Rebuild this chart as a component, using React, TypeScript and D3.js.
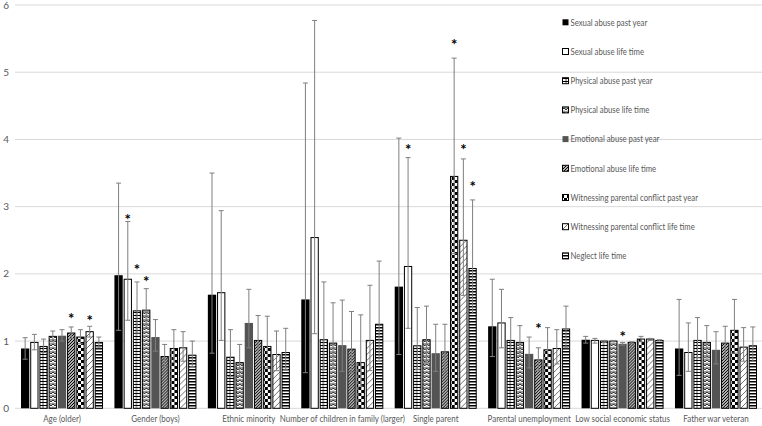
import React from "react";
import * as d3 from "d3";

const categories = [
  "Age (older)",
  "Gender (boys)",
  "Ethnic minority",
  "Number of children in family (larger)",
  "Single parent",
  "Parental unemployment",
  "Low social economic status",
  "Father war veteran",
];

const seriesNames = [
  "Sexual abuse past year",
  "Sexual abuse life time",
  "Physical abuse past year",
  "Physical abuse life time",
  "Emotional abuse past year",
  "Emotional abuse life time",
  "Witnessing parental conflict past year",
  "Witnessing parental conflict life time",
  "Neglect life time",
];

// values per series (one entry per category)
const sexualPastYear = [0.89, 1.98, 1.69, 1.62, 1.81, 1.22, 1.02, 0.89];
const sexualLifeTime = [0.98, 1.92, 1.72, 2.54, 2.11, 1.27, 1.01, 0.83];
const physicalPastYear = [0.92, 1.45, 0.76, 1.02, 0.93, 1.01, 1.0, 1.01];
const physicalLifeTime = [1.07, 1.46, 0.68, 0.97, 1.02, 0.98, 1.0, 0.98];
const emotionalPastYear = [1.08, 1.06, 1.27, 0.94, 0.82, 0.81, 0.96, 0.87];
const emotionalLifeTime = [1.12, 0.77, 1.01, 0.88, 0.84, 0.72, 0.98, 0.97];
const witnessPastYear = [1.06, 0.89, 0.92, 0.68, 3.45, 0.87, 1.03, 1.16];
const witnessLifeTime = [1.14, 0.9, 0.8, 1.01, 2.5, 0.89, 1.03, 0.91];
const neglectLifeTime = [0.98, 0.79, 0.83, 1.25, 2.08, 1.18, 1.01, 0.93];

// upper CI per series
const sexualPastYearHi = [1.05, 3.35, 3.5, 4.84, 4.02, 1.92, 1.07, 1.62];
const sexualLifeTimeHi = [1.1, 2.78, 2.94, 5.77, 3.73, 1.77, 1.04, 1.27];
const physicalPastYearHi = [1.03, 1.88, 1.17, 1.88, 1.5, 1.35, 1.01, 1.35];
const physicalLifeTimeHi = [1.15, 1.78, 0.95, 1.57, 1.52, 1.23, 1.01, 1.23];
const emotionalPastYearHi = [1.17, 1.32, 1.77, 1.61, 1.25, 1.06, 0.98, 1.14];
const emotionalLifeTimeHi = [1.21, 0.95, 1.38, 1.44, 1.25, 0.9, 0.99, 1.22];
const witnessPastYearHi = [1.17, 1.17, 1.37, 1.39, 5.21, 1.2, 1.07, 1.62];
const witnessLifeTimeHi = [1.22, 1.14, 1.15, 1.83, 3.71, 1.17, 1.04, 1.2];
const neglectLifeTimeHi = [1.06, 1.0, 1.19, 2.19, 3.1, 1.52, 1.02, 1.21];

// lower CI per series
const sexualPastYearLo = [0.73, 1.16, 0.82, 0.53, 0.8, 0.77, 0.97, 0.49];
const sexualLifeTimeLo = [0.87, 1.31, 1.01, 1.11, 1.19, 0.9, 0.97, 0.55];
const physicalPastYearLo = [0.83, 1.12, 0.47, 0.57, 0.58, 0.74, 0.98, 0.75];
const physicalLifeTimeLo = [0.99, 1.2, 0.48, 0.6, 0.68, 0.78, 0.99, 0.75];
const emotionalPastYearLo = [1.0, 0.85, 0.9, 0.55, 0.55, 0.6, 0.94, 0.66];
const emotionalLifeTimeLo = [1.04, 0.62, 0.74, 0.53, 0.56, 0.56, 0.97, 0.75];
const witnessPastYearLo = [0.96, 0.68, 0.6, 0.33, 2.3, 0.62, 0.99, 0.82];
const witnessLifeTimeLo = [1.06, 0.7, 0.56, 0.56, 1.68, 0.66, 1.01, 0.7];
const neglectLifeTimeLo = [0.9, 0.62, 0.58, 0.71, 1.41, 0.9, 1.0, 0.7];

// significance stars: [category index, series index, label height in data units]
const stars: [number, number, number][] = [
  [0, 5, 1.37],
  [0, 7, 1.34],
  [1, 1, 2.85],
  [1, 2, 2.1],
  [1, 3, 1.92],
  [4, 1, 3.88],
  [4, 6, 5.45],
  [4, 7, 3.88],
  [4, 8, 3.34],
  [5, 5, 1.23],
  [6, 4, 1.11],
];

const yTicks = [0, 1, 2, 3, 4, 5, 6];

const values = [
  sexualPastYear, sexualLifeTime, physicalPastYear, physicalLifeTime,
  emotionalPastYear, emotionalLifeTime, witnessPastYear, witnessLifeTime, neglectLifeTime,
];
const highs = [
  sexualPastYearHi, sexualLifeTimeHi, physicalPastYearHi, physicalLifeTimeHi,
  emotionalPastYearHi, emotionalLifeTimeHi, witnessPastYearHi, witnessLifeTimeHi, neglectLifeTimeHi,
];
const lows = [
  sexualPastYearLo, sexualLifeTimeLo, physicalPastYearLo, physicalLifeTimeLo,
  emotionalPastYearLo, emotionalLifeTimeLo, witnessPastYearLo, witnessLifeTimeLo, neglectLifeTimeLo,
];

const fills = [
  "#000000",
  "#ffffff",
  "url(#pGrid)",
  "url(#pZig)",
  "#545454",
  "url(#pDiag)",
  "url(#pCheck)",
  "url(#pLight)",
  "url(#pHoriz)",
];
const strokes = [null, "#000", "#000", "#000", null, "#000", "#000", "#000", "#000"];

const W = 762;
const H = 426;
const FONT = "Lato, 'Open Sans', sans-serif";
const TXT = "#595959";

export default function App() {
  const x = d3.scaleBand<string>().domain(categories).range([15.3, 762.7]).paddingInner(0.122).paddingOuter(0.061);
  const xs = d3.scaleBand<string>().domain(seriesNames).range([0, x.bandwidth()]).paddingInner(0.1);
  const y = d3.scaleLinear().domain([0, 6]).range([408.3, 5]);

  return (
    <svg width={W} height={H} style={{ position: "absolute", left: 0, top: 0, background: "#fff" }}>
      <defs>
        <pattern id="pGrid" patternUnits="userSpaceOnUse" width="4" height="3">
          <rect width="4" height="3" fill="#fff" />
          <line x1="0" y1="0.5" x2="4" y2="0.5" stroke="#000" strokeWidth="1" />
          <line x1="2" y1="0" x2="2" y2="3" stroke="#000" strokeWidth="0.7" />
        </pattern>
        <pattern id="pZig" patternUnits="userSpaceOnUse" width="4" height="4">
          <rect width="4" height="4" fill="#fff" />
          <path d="M0,0 L2,2 L4,0 M0,2.5 L2,4.5 L4,2.5 M0,-1.5 L2,0.5 L4,-1.5" fill="none" stroke="#000" strokeWidth="0.8" />
        </pattern>
        <pattern id="pDiag" patternUnits="userSpaceOnUse" width="3" height="3">
          <rect width="3" height="3" fill="#fff" />
          <path d="M-1,1 L1,-1 M0,3 L3,0 M2,4 L4,2" stroke="#000" strokeWidth="1.2" />
        </pattern>
        <pattern id="pCheck" patternUnits="userSpaceOnUse" width="6" height="6">
          <rect width="6" height="6" fill="#fff" />
          <rect x="0" y="0" width="3" height="3" fill="#000" />
          <rect x="3" y="3" width="3" height="3" fill="#000" />
        </pattern>
        <pattern id="pLight" patternUnits="userSpaceOnUse" width="6" height="6">
          <rect width="6" height="6" fill="#fff" />
          <path d="M0,6 L6,0 M-1,1 L1,-1 M5,7 L7,5" stroke="#333" strokeWidth="0.7" />
        </pattern>
        <pattern id="pHoriz" patternUnits="userSpaceOnUse" width="4" height="3">
          <rect width="4" height="3" fill="#fff" />
          <rect x="0" y="0" width="4" height="1.5" fill="#000" />
        </pattern>
      </defs>

      {/* gridlines */}
      {yTicks.map((t) => (
        <line key={"g" + t} x1={15} x2={762} y1={y(t)} y2={y(t)} stroke="#d9d9d9" strokeWidth={1} />
      ))}
      {yTicks.map((t) => (
        <text key={"t" + t} x={9} y={y(t) + 3.5} textAnchor="end" fontFamily={FONT} fontSize={10} fill={TXT}>
          {t}
        </text>
      ))}

      {/* bars */}
      {categories.map((c, ci) => (
        <g key={c} transform={`translate(${x(c)},0)`}>
          {seriesNames.map((s, si) => {
            const v = values[si][ci];
            const bx = xs(s)!;
            const bw = xs.bandwidth();
            return (
              <rect
                key={s}
                x={bx + (strokes[si] ? 0.5 : 0)}
                y={y(v)}
                width={bw - (strokes[si] ? 1 : 0)}
                height={y(0) - y(v)}
                fill={fills[si]}
                stroke={strokes[si] || "none"}
                strokeWidth={1}
              />
            );
          })}
          {seriesNames.map((s, si) => {
            const cx = xs(s)! + xs.bandwidth() / 2;
            const hi = y(highs[si][ci]);
            const lo = y(lows[si][ci]);
            return (
              <g key={"e" + s} stroke="#7f7f7f" strokeWidth={1}>
                <line x1={cx} x2={cx} y1={hi} y2={lo} />
                <line x1={cx - 2.5} x2={cx + 2.5} y1={hi} y2={hi} />
                <line x1={cx - 2.5} x2={cx + 2.5} y1={lo} y2={lo} />
              </g>
            );
          })}
        </g>
      ))}

      {/* stars */}
      {stars.map(([ci, si, v], i) => (
        <text
          key={"s" + i}
          x={x(categories[ci])! + xs(seriesNames[si])! + xs.bandwidth() / 2}
          y={y(v) + 8}
          textAnchor="middle"
          fontFamily={FONT}
          fontSize={15}
          fontWeight="bold"
          fill="#000"
          style={{ WebkitFontSmoothing: "antialiased" } as any}
        >
          *
        </text>
      ))}

      {/* category labels */}
      {categories.map((c) => (
        <text
          key={"c" + c}
          transform={`translate(${x(c)! + x.bandwidth() / 2},422) scale(0.84,1)`}
          textAnchor="middle"
          fontFamily={FONT}
          fontSize={9.5}
          fill={TXT}
        >
          {c}
        </text>
      ))}

      {/* legend */}
      {seriesNames.map((s, si) => {
        const ly = 22.3 + si * 29.2;
        return (
          <g key={"l" + s}>
            <rect
              x={562.5}
              y={ly - 3}
              width={6}
              height={6}
              fill={fills[si]}
              stroke={strokes[si] || "none"}
              strokeWidth={1}
            />
            <text
              transform={`translate(570.5,${ly + 3.3}) scale(0.8,1)`}
              fontFamily={FONT}
              fontSize={9.7}
              fill={TXT}
            >
              {s}
            </text>
          </g>
        );
      })}
    </svg>
  );
}
